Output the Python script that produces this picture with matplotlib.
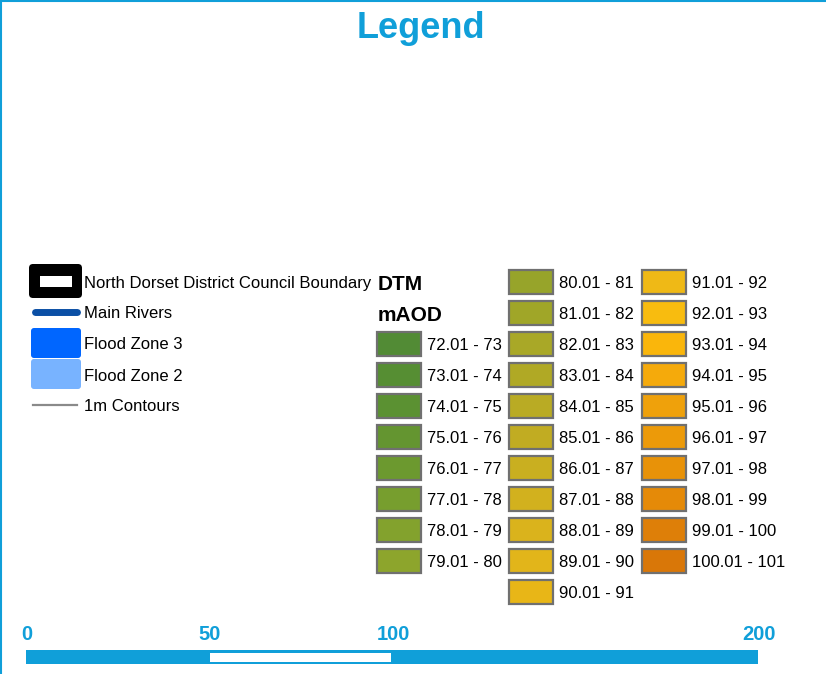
import matplotlib
matplotlib.use('Agg')
import matplotlib.pyplot as plt
from matplotlib.patches import Rectangle, FancyBboxPatch

plt.rcParams['font.family'] = ['Liberation Sans', 'DejaVu Sans']

# legend content
layer_names = ['North Dorset District Council Boundary', 'Main Rivers',
               'Flood Zone 3', 'Flood Zone 2', '1m Contours']
dtm_lower = list(range(72, 101))          # 72.01 - 73 ... 100.01 - 101
dtm_labels = [f'{v}.01 - {v + 1}' for v in dtm_lower]
dtm_colors = ['#528b35', '#568e33', '#5b9132', '#649530', '#6c992f', '#779e2e',
              '#83a22d', '#8da52c', '#97a42a', '#a0a628', '#a9a827', '#b0a925',
              '#b9ab24', '#c1ac22', '#c9af20', '#d2b11e', '#dab31c', '#e2b51a',
              '#e8b617', '#efb916', '#f8bc0f', '#fab60b', '#f5aa0b', '#efa10b',
              '#ec9a09', '#e89208', '#e58a08', '#de7f08', '#d97708']
col_counts = [8, 11, 10]
col_start_row = [2, 0, 0]
scale_ticks = [0, 50, 100, 200]

BLUE = '#109fd9'

fig = plt.figure(figsize=(8.26, 6.74), dpi=100)
ax = fig.add_axes([0, 0, 1, 1])
ax.set_xlim(0, 826)
ax.set_ylim(674, 0)
ax.axis('off')

# frame lines at top and left
ax.plot([0, 826], [0.7, 0.7], color=BLUE, lw=1.5, solid_capstyle='butt')
ax.plot([0.7, 0.7], [0, 674], color=BLUE, lw=1.5, solid_capstyle='butt')

ax.text(421, 38, 'Legend', fontsize=26, fontweight='bold', color=BLUE,
        ha='center', va='baseline')

# left layer symbols
ax.add_patch(FancyBboxPatch((29, 264), 53, 34, boxstyle='round,pad=0,rounding_size=4',
                            fc='black', ec='none'))
ax.add_patch(Rectangle((40, 276), 32, 11, fc='white', ec='none'))
ax.plot([35, 77], [312, 312], color='#0b4fa5', lw=5, solid_capstyle='round')
ax.add_patch(FancyBboxPatch((31, 328), 50, 30, boxstyle='round,pad=0,rounding_size=3',
                            fc='#0066ff', ec='none'))
ax.add_patch(FancyBboxPatch((31, 359), 50, 30, boxstyle='round,pad=0,rounding_size=3',
                            fc='#78b3ff', ec='none'))
ax.plot([33, 77], [404.5, 404.5], color='#8a8a8a', lw=1.6)

layer_base = [288, 318, 349, 381, 411]
for name, yb in zip(layer_names, layer_base):
    ax.text(84, yb, name, fontsize=12, ha='left', va='baseline')

# DTM header
ax.text(378, 290, 'DTM', fontsize=15, fontweight='bold', va='baseline')
ax.text(378, 321, 'mAOD', fontsize=15, fontweight='bold', va='baseline')

# DTM swatches
col_x = [377, 509, 642]
row0, row_step = 281.5, 31
k = 0
for c, n in enumerate(col_counts):
    for r in range(n):
        yc = row0 + (col_start_row[c] + r) * row_step
        ax.add_patch(Rectangle((col_x[c], yc - 12), 44, 24, fc=dtm_colors[k],
                               ec='#707070', lw=1.6))
        ax.text(col_x[c] + 50, yc + 6.5, dtm_labels[k], fontsize=12,
                ha='left', va='baseline')
        k += 1

# scale bar
x0, x1 = 26, 758
def sx(v):
    return x0 + (x1 - x0) * v / scale_ticks[-1]
ax.add_patch(Rectangle((x0, 650), x1 - x0, 14, fc=BLUE, ec='none'))
ax.add_patch(Rectangle((sx(50) + 1, 653), sx(100) - sx(50) - 2, 9, fc='white', ec='none'))
for t in scale_ticks:
    ax.text(sx(t) + 1, 640, str(t), fontsize=14.5, fontweight='bold', color=BLUE,
            ha='center', va='baseline')

fig.savefig('out.png', dpi=100)
